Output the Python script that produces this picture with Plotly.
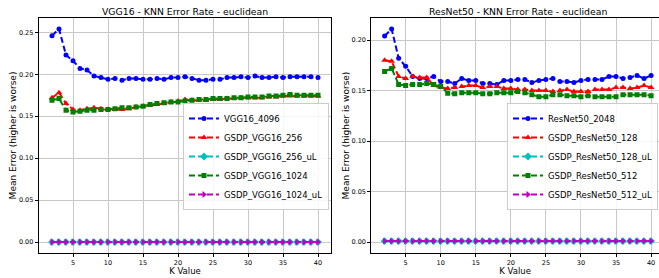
import plotly.graph_objects as go

k_values = list(range(2, 41))

vgg16_4096 = [0.246, 0.254, 0.223, 0.216, 0.207, 0.205, 0.198, 0.196, 0.194, 0.195,
              0.193, 0.195, 0.195, 0.194, 0.194, 0.195, 0.194, 0.196, 0.196, 0.197,
              0.195, 0.193, 0.193, 0.194, 0.194, 0.196, 0.196, 0.197, 0.196, 0.198,
              0.196, 0.196, 0.197, 0.196, 0.197, 0.197, 0.197, 0.197, 0.196]
gsdp_vgg16_256 = [0.172, 0.178, 0.165, 0.158, 0.157, 0.159, 0.160, 0.159, 0.158, 0.158,
                  0.158, 0.159, 0.161, 0.162, 0.163, 0.164, 0.165, 0.167, 0.168, 0.170,
                  0.169, 0.169, 0.169, 0.170, 0.170, 0.171, 0.171, 0.172, 0.172, 0.172,
                  0.172, 0.173, 0.173, 0.174, 0.174, 0.174, 0.174, 0.174, 0.174]
gsdp_vgg16_256_ul = [0.0] * 39
gsdp_vgg16_1024 = [0.169, 0.171, 0.157, 0.155, 0.156, 0.157, 0.157, 0.158, 0.158, 0.159,
                   0.160, 0.160, 0.161, 0.162, 0.164, 0.165, 0.166, 0.167, 0.167, 0.168,
                   0.169, 0.170, 0.170, 0.171, 0.171, 0.171, 0.172, 0.172, 0.173, 0.173,
                   0.173, 0.174, 0.174, 0.175, 0.176, 0.175, 0.175, 0.175, 0.175]
gsdp_vgg16_1024_ul = [0.0] * 39

resnet50_2048 = [0.204, 0.211, 0.182, 0.174, 0.164, 0.162, 0.162, 0.164, 0.159, 0.159,
                 0.157, 0.162, 0.160, 0.160, 0.157, 0.157, 0.156, 0.160, 0.160, 0.161,
                 0.161, 0.158, 0.160, 0.161, 0.162, 0.159, 0.159, 0.158, 0.160, 0.161,
                 0.161, 0.161, 0.164, 0.164, 0.162, 0.163, 0.165, 0.162, 0.165]
gsdp_resnet50_128 = [0.180, 0.179, 0.164, 0.162, 0.164, 0.163, 0.163, 0.155, 0.153, 0.152,
                     0.153, 0.154, 0.155, 0.155, 0.153, 0.154, 0.154, 0.152, 0.152, 0.151,
                     0.151, 0.150, 0.150, 0.150, 0.149, 0.150, 0.151, 0.149, 0.149, 0.149,
                     0.151, 0.151, 0.151, 0.153, 0.153, 0.152, 0.153, 0.155, 0.153]
gsdp_resnet50_128_ul = [0.001] * 39
gsdp_resnet50_512 = [0.169, 0.172, 0.156, 0.155, 0.156, 0.156, 0.157, 0.156, 0.154, 0.1475,
                     0.147, 0.148, 0.148, 0.148, 0.147, 0.147, 0.148, 0.148, 0.148, 0.149,
                     0.148, 0.146, 0.144, 0.144, 0.146, 0.146, 0.145, 0.145, 0.144, 0.145,
                     0.144, 0.144, 0.144, 0.144, 0.146, 0.146, 0.146, 0.146, 0.145]
gsdp_resnet50_512_ul = [0.001] * 39

x_ticks = [5, 10, 15, 20, 25, 30, 35, 40]
left_y_ticks = [0.0, 0.05, 0.10, 0.15, 0.20, 0.25]
right_y_ticks = [0.0, 0.05, 0.10, 0.15, 0.20]

left_series = [
    ("VGG16_4096", vgg16_4096, "blue", "circle", 5),
    ("GSDP_VGG16_256", gsdp_vgg16_256, "red", "triangle-up", 6),
    ("GSDP_VGG16_256_uL", gsdp_vgg16_256_ul, "#00bfbf", "diamond", 6),
    ("GSDP_VGG16_1024", gsdp_vgg16_1024, "green", "square", 5),
    ("GSDP_VGG16_1024_uL", gsdp_vgg16_1024_ul, "#bf00bf", "triangle-right", 6),
]
right_series = [
    ("ResNet50_2048", resnet50_2048, "blue", "circle", 5),
    ("GSDP_ResNet50_128", gsdp_resnet50_128, "red", "triangle-up", 6),
    ("GSDP_ResNet50_128_uL", gsdp_resnet50_128_ul, "#00bfbf", "diamond", 6),
    ("GSDP_ResNet50_512", gsdp_resnet50_512, "green", "square", 5),
    ("GSDP_ResNet50_512_uL", gsdp_resnet50_512_ul, "#bf00bf", "triangle-right", 6),
]

fig = go.Figure()
for series, xa, ya, leg in [(left_series, "x", "y", "legend"), (right_series, "x2", "y2", "legend2")]:
    for name, vals, color, sym, msize in series:
        fig.add_trace(go.Scatter(
            x=k_values, y=vals, name=name, mode="lines+markers",
            line=dict(color=color, width=2, dash="6px,3px"),
            marker=dict(color=color, symbol=sym, size=msize),
            xaxis=xa, yaxis=ya, legend=leg,
        ))

W, H = 659, 278
def px_x(a, b):
    return [a / W, min(b / W, 1.0)]
def px_y(top, bottom):
    return [(H - bottom) / H, (H - top) / H]

tickfont = dict(family="DejaVu Sans", size=6.5, color="black")
axcommon = dict(showline=True, linecolor="black", linewidth=1, mirror=True,
                showgrid=True, gridcolor="#c8c8c8", gridwidth=1,
                ticks="outside", ticklen=3, tickcolor="black", tickfont=tickfont,
                zeroline=False)
ytitle = "Mean Error (higher is worse)"
legend_style = dict(yanchor="top", xanchor="right", bgcolor="rgba(255,255,255,0.85)",
                    bordercolor="#cccccc", borderwidth=1,
                    font=dict(family="DejaVu Sans", size=8.5), tracegroupgap=0, itemwidth=30)

fig.update_layout(
    width=W, height=H, margin=dict(l=0, r=0, t=0, b=0),
    paper_bgcolor="white", plot_bgcolor="white",
    font=dict(family="DejaVu Sans", color="black"),
    xaxis=dict(domain=px_x(38.7, 331.3), range=[0.1, 41.9], tickvals=x_ticks, anchor="y",
               title=dict(text="K Value", font=dict(size=8.5), standoff=1), **axcommon),
    yaxis=dict(domain=px_y(18.3, 252.7), range=[-0.0127, 0.2667], tickvals=left_y_ticks,
               tickformat=".2f", anchor="x",
               title=dict(text=ytitle, font=dict(size=9), standoff=0), **axcommon),
    xaxis2=dict(domain=px_x(371.3, 659), range=[0.1, 41.13], tickvals=x_ticks, anchor="y2",
                title=dict(text="K Value", font=dict(size=8.5), standoff=1), **axcommon),
    yaxis2=dict(domain=px_y(18.3, 252.7), range=[-0.0105, 0.2216], tickvals=right_y_ticks,
                tickformat=".2f", anchor="x2",
                title=dict(text=ytitle, font=dict(size=9), standoff=0), **axcommon),
    legend=dict(x=329 / W, y=(H - 103) / H, **legend_style),
    legend2=dict(x=658 / W, y=(H - 103) / H, **legend_style),
    annotations=[
        dict(text="VGG16 - KNN Error Rate - euclidean", x=(38.7 + 331.3) / 2 / W, y=(H - 11.5) / H,
             xref="paper", yref="paper", showarrow=False, font=dict(size=9.3),
             xanchor="center", yanchor="middle"),
        dict(text="ResNet50 - KNN Error Rate - euclidean", x=(371.3 + 664) / 2 / W, y=(H - 11.5) / H,
             xref="paper", yref="paper", showarrow=False, font=dict(size=9.3),
             xanchor="center", yanchor="middle"),
    ],
)

fig.write_html("out.html", config={"displayModeBar": False},
               post_script="document.body.style.margin='0';")
